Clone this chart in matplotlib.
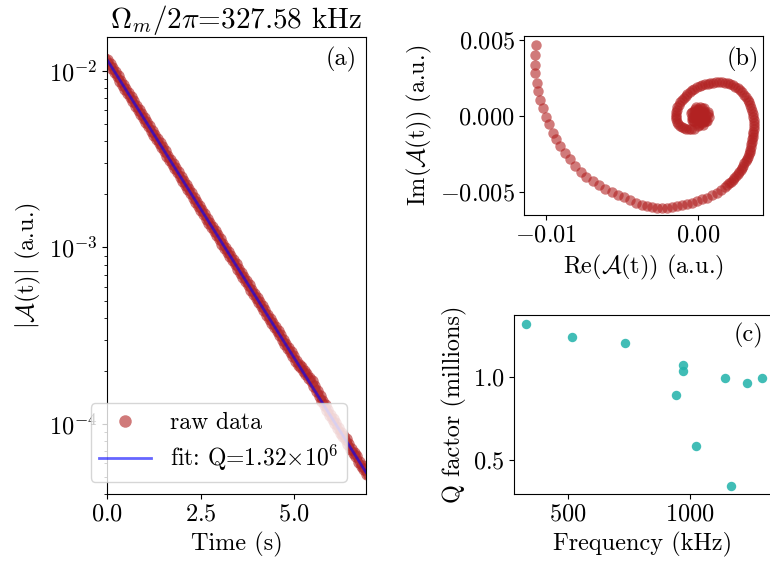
import numpy as np
import matplotlib
matplotlib.use("Agg")
import matplotlib.pyplot as plt

plt.rcParams.update({
    "font.family": "serif",
    "font.serif": ["cmr10"],
    "mathtext.fontset": "cm",
    "axes.formatter.use_mathtext": True,
    "font.size": 17.5,
})

dt = 0.07
log_amp = [
    -1.935, -1.959, -1.982, -2.006, -2.030, -2.054, -2.077, -2.101, -2.125, -2.148,
    -2.172, -2.196, -2.219, -2.243, -2.267, -2.291, -2.314, -2.338, -2.362, -2.385,
    -2.409, -2.433, -2.456, -2.480, -2.504, -2.528, -2.551, -2.575, -2.599, -2.622,
    -2.646, -2.670, -2.693, -2.717, -2.741, -2.765, -2.788, -2.812, -2.836, -2.859,
    -2.883, -2.907, -2.930, -2.954, -2.978, -3.002, -3.025, -3.049, -3.073, -3.096,
    -3.120, -3.144, -3.167, -3.191, -3.215, -3.239, -3.262, -3.286, -3.310, -3.333,
    -3.357, -3.381, -3.404, -3.428, -3.452, -3.476, -3.499, -3.523, -3.547, -3.570,
    -3.594, -3.618, -3.641, -3.665, -3.680, -3.700, -3.718, -3.738, -3.760, -3.785,
    -3.812, -3.840, -3.868, -3.895, -3.922, -3.950, -3.975, -3.995, -4.021, -4.050,
    -4.068, -4.085, -4.115, -4.145, -4.163, -4.180, -4.215, -4.240, -4.255, -4.285,
]
t_fit = [0.0, 6.91]
amp_fit = [1.16e-2, 5.3e-5]

# (b) complex amplitude, units of 1e-3 a.u. (outer spiral, then inner loop)
re_mau = [
    -10.66, -10.75, -10.75, -10.73, -10.60, -10.53, -10.38, -10.20, -9.98, -9.80,
    -9.58, -9.34, -9.07, -8.77, -8.41, -8.08, -7.73, -7.35, -6.91, -6.49,
    -6.09, -5.68, -5.26, -4.86, -4.46, -4.07, -3.71, -3.38, -3.05, -2.68,
    -2.34, -2.01, -1.68, -1.35, -1.02, -0.69, -0.36, -0.03, 0.30, 0.64,
    0.93, 1.26, 1.54, 1.81, 2.07, 2.29, 2.52, 2.74, 2.91, 3.07,
    3.22, 3.35, 3.46, 3.53, 3.60, 3.64, 3.68, 3.70, 3.66, 3.60,
    3.46, 3.30, 3.07, 2.80, 2.47, 2.14, 1.77, 1.41, 1.01, 0.65,
    0.28, -0.05, -0.38, -0.68, -0.94, -1.17, -1.34, -1.44, -1.44, -1.37,
    -1.17, -0.91, -0.58, -0.25, 0.02, 0.35, 0.62, 0.72, 0.65, 0.42,
    0.12, -0.18, -0.38, -0.41, -0.31, -0.05, 0.25, 0.48, 0.52, 0.35,
    0.09, -0.11, -0.11, 0.09, 0.28, 0.28, 0.12, 0.05, 0.15, 0.12,
    0.30, 0.40, 0.20, -0.20, -0.25, 0.00, 0.35, 0.10, -0.05, 0.20,
]
im_mau = [
    4.66, 4.00, 3.39, 2.80, 2.19, 1.62, 1.03, 0.51, -0.07, -0.54,
    -1.10, -1.53, -1.97, -2.41, -2.84, -3.26, -3.65, -3.98, -4.27, -4.53,
    -4.77, -4.97, -5.16, -5.33, -5.51, -5.69, -5.82, -5.91, -5.97, -6.02,
    -6.02, -6.02, -5.97, -5.91, -5.82, -5.75, -5.69, -5.58, -5.47, -5.36,
    -5.20, -5.03, -4.86, -4.64, -4.42, -4.20, -3.94, -3.67, -3.39, -3.10,
    -2.80, -2.49, -2.19, -1.86, -1.53, -1.20, -0.87, -0.46, -0.07, 0.33,
    0.72, 1.08, 1.41, 1.71, 1.94, 2.10, 2.20, 2.23, 2.20, 2.13,
    2.03, 1.90, 1.71, 1.48, 1.21, 0.92, 0.59, 0.26, -0.07, -0.36,
    -0.62, -0.79, -0.85, -0.82, -0.66, -0.56, -0.33, -0.03, 0.30, 0.52,
    0.59, 0.49, 0.26, -0.03, -0.30, -0.46, -0.43, -0.23, 0.07, 0.30,
    0.33, 0.16, -0.10, -0.23, -0.13, 0.07, 0.10, -0.03, -0.07, -0.03,
    0.20, -0.30, -0.40, 0.00, 0.35, 0.40, -0.15, -0.20, 0.20, 0.05,
]
# extra samples where the spiral is dense (right side, inner turn, centre)
re_dense_mau = [
    1.94, 2.18, 2.41, 2.63, 2.83, 2.99, 3.15, 3.29, 3.41, 3.50, 3.57, 3.62, 3.66,
    3.70, 3.68, 3.63, 3.54, 3.39, 3.19, 2.94, 2.64, 2.31, 1.96, 1.59, 1.21, 0.83,
    0.47, 0.12, -0.22, -0.53, -0.81, -1.06, -1.26, -1.40, -1.45, -1.41, -1.28,
    -1.05, -0.75, -0.42,
    0.30, 0.20, -0.20, -0.30, 0.45, 0.00, -0.25, 0.40, 0.55, -0.45, 0.10, 0.65,
    -0.10, 0.30, -0.40,
]
im_dense_mau = [
    -4.53, -4.31, -4.07, -3.81, -3.53, -3.25, -2.95, -2.65, -2.34, -2.03, -1.70,
    -1.37, -1.04,
    -0.66, -0.27, 0.13, 0.52, 0.90, 1.25, 1.57, 1.83, 2.03, 2.16, 2.22, 2.22, 2.17,
    2.09, 1.97, 1.81, 1.60, 1.35, 1.07, 0.76, 0.43, 0.10, -0.22, -0.50, -0.72,
    -0.83, -0.85,
    0.15, -0.30, 0.30, -0.10, -0.10, 0.45, -0.35, 0.35, -0.35, 0.20, -0.55, 0.15,
    0.60, 0.55, -0.25,
]

# (c) Q factor vs mode frequency
freq_khz = [327.58, 519, 735, 971, 972, 944, 1024, 1144, 1233, 1294, 1166]
q_millions = [1.32, 1.24, 1.206, 1.070, 1.036, 0.890, 0.588, 0.996, 0.964, 0.996, 0.344]

t_raw = dt * np.arange(len(log_amp))
amp_raw = 10 ** np.array(log_amp)
re = np.array(re_mau + re_dense_mau) * 1e-3
im = np.array(im_mau + im_dense_mau) * 1e-3

fig = plt.figure(figsize=(7.7, 5.7), dpi=100)

ax1 = fig.add_axes([0.139, 0.1333, 0.3364, 0.8018])
ax1.semilogy(t_raw, amp_raw, "-", color="firebrick", alpha=0.6, lw=6)
ax1.semilogy(t_raw, amp_raw, "o", color="firebrick", alpha=0.6, ms=9, mew=0, label="raw data")
ax1.semilogy(t_fit, amp_fit, "-", color="blue", alpha=0.6, lw=2,
             label=r"fit: Q=1.32$\times10^6$")
ax1.set_xlim(0, 6.91)
ax1.set_ylim(4.0e-5, 1.56e-2)
ax1.set_xticks([0, 2.5, 5.0])
ax1.set_xlabel("Time (s)")
ax1.set_ylabel(r"$|\mathcal{A}$(t)$|$ (a.u.)")
ax1.set_title(r"$\Omega_m/2\pi$=327.58 kHz", fontsize=21, pad=5)
ax1.text(0.964, 0.979, "(a)", transform=ax1.transAxes, ha="right", va="top")
ax1.legend(loc="lower left", bbox_to_anchor=(-0.063, 0.027), borderaxespad=0,
           handlelength=2.2, fontsize=17, labelspacing=0.4, borderpad=0.35)

ax2 = fig.add_axes([0.6809, 0.6228, 0.3104, 0.314])
ax2.plot(re, im, "o", color="firebrick", alpha=0.6, ms=7.5, mew=0)
ax2.set_xlim(-0.01144, 0.00432)
ax2.set_ylim(-0.00649, 0.00526)
ax2.set_xticks([-0.01, 0.0])
ax2.set_yticks([-0.005, 0.0, 0.005])
ax2.set_xlabel(r"Re($\mathcal{A}$(t)) (a.u.)")
ax2.set_ylabel(r"Im($\mathcal{A}$(t)) (a.u.)")
ax2.text(0.982, 0.941, "(b)", transform=ax2.transAxes, ha="right", va="top")

ax3 = fig.add_axes([0.668, 0.1333, 0.3334, 0.314])
ax3.plot(freq_khz, q_millions, "o", color="lightseagreen", alpha=0.85, ms=6.8, mew=0)
ax3.set_xlim(282, 1331)
ax3.set_ylim(0.298, 1.372)
ax3.set_xticks([500, 1000])
ax3.set_yticks([0.5, 1.0])
ax3.set_xlabel("Frequency (kHz)")
ax3.set_ylabel("Q factor (millions)")
ax3.text(0.970, 0.954, "(c)", transform=ax3.transAxes, ha="right", va="top")

fig.savefig("out.png", dpi=100)
